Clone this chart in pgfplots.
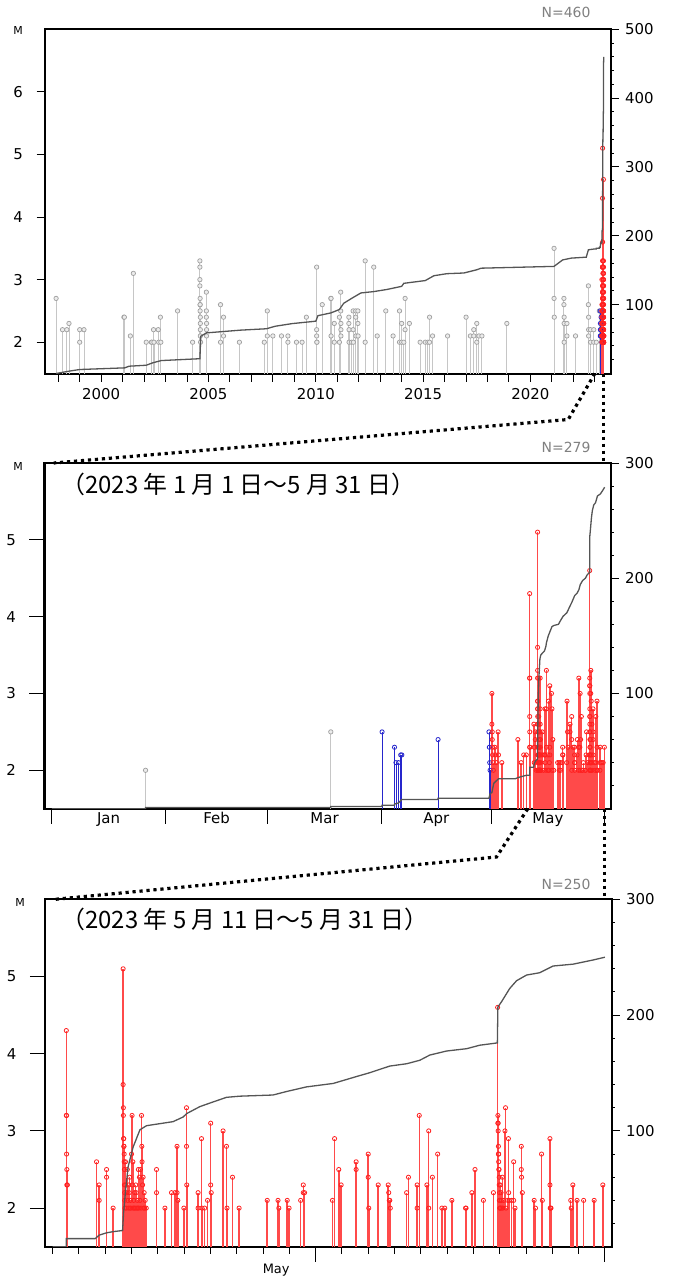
\documentclass[border=0pt]{standalone}
\usepackage{fontspec}
\setmainfont{DejaVu Sans}
\newfontfamily\jp{Noto Sans CJK JP}
\usepackage{pgfplots}
\usepackage{pgfplotstable}
\pgfplotsset{compat=1.18}

% ---------- events (M) ----------
\pgfplotstableread{
y m
1997.90 2.7
1998.20 2.2
1998.40 2.2
1998.50 2.3
1999.00 2.2
1999.00 2.0
1999.20 2.2
2001.06 2.4
2001.08 2.4
2001.36 2.1
2001.50 3.1
2002.10 2.0
2002.34 2.0
2002.36 2.0
2002.44 2.2
2002.46 2.0
2002.66 2.2
2002.68 2.0
2002.76 2.4
2002.78 2.0
2003.56 2.5
2004.26 2.0
2004.60 3.3
2004.60 3.2
2004.60 3.0
2004.60 2.9
2004.61 2.7
2004.61 2.6
2004.61 2.6
2004.61 2.5
2004.62 2.4
2004.62 2.3
2004.62 2.2
2004.62 2.1
2004.63 2.0
2004.90 2.8
2004.90 2.5
2004.90 2.4
2004.91 2.3
2004.91 2.2
2004.91 2.1
2005.56 2.6
2005.56 2.0
2005.70 2.4
2005.70 2.1
2006.44 2.0
2007.60 2.0
2007.74 2.5
2007.74 2.1
2008.00 2.1
2008.40 2.1
2008.70 2.1
2008.70 2.0
2009.10 2.0
2009.36 2.0
2009.56 2.4
2010.04 3.2
2010.04 2.2
2010.04 2.1
2010.05 2.0
2010.05 2.0
2010.30 2.6
2010.70 2.7
2010.71 2.7
2010.71 2.1
2010.86 2.3
2010.86 2.0
2011.10 2.4
2011.10 2.0
2011.16 2.8
2011.16 2.5
2011.17 2.3
2011.17 2.2
2011.17 2.1
2011.54 2.4
2011.54 2.3
2011.55 2.2
2011.55 2.0
2011.66 2.0
2011.74 2.5
2011.74 2.2
2011.75 2.0
2011.86 2.5
2011.86 2.4
2011.87 2.1
2011.96 2.5
2011.96 2.3
2011.97 2.1
2012.30 3.3
2012.30 2.0
2012.70 3.2
2012.86 2.1
2013.26 2.5
2013.60 2.1
2013.90 2.5
2013.90 2.0
2014.00 2.3
2014.00 2.0
2014.10 2.0
2014.16 2.7
2014.16 2.2
2014.36 2.3
2014.86 2.0
2015.10 2.0
2015.22 2.0
2015.30 2.4
2015.30 2.0
2015.44 2.1
2016.14 2.1
2017.00 2.4
2017.20 2.1
2017.36 2.2
2017.36 2.1
2017.50 2.3
2017.50 2.0
2017.60 2.1
2017.74 2.1
2018.90 2.3
2021.10 3.5
2021.10 2.7
2021.11 2.4
2021.56 2.7
2021.56 2.6
2021.57 2.4
2021.57 2.3
2021.57 2.0
2021.70 2.3
2021.70 2.1
2022.10 2.1
2022.70 2.9
2022.70 2.6
2022.71 2.4
2022.71 2.2
2022.71 2.1
2022.80 2.2
2022.80 2.0
2022.95 2.2
2022.95 2.0
}\ponegray

\pgfplotstableread{
d m
25.6 2.0
76.2 2.5
}\ptwogray

\pgfplotstableread{
d m
90.2 2.5
93.6 2.3
94.0 2.1
94.7 2.1
95.3 2.2
95.6 2.2
105.5 2.4
119.4 2.5
119.5 2.3
119.6 2.1
119.7 2.0
}\ptwoblue

\pgfplotstableread{
d m
120.2 3.0
120.2 2.6
120.3 2.5
120.3 2.4
120.4 2.3
120.4 2.2
120.5 2.1
120.6 2.0
121.0 2.3
121.2 2.2
121.4 2.1
121.9 2.5
122.0 2.2
122.9 2.1
127.3 2.4
128.2 2.1
128.9 2.2
129.6 2.2
}\ptwored

% May events: d = day of May (11.0 = 11 May 00:00)
\pgfplotstableread{
d m
11.52 4.3
11.52 3.2
11.53 3.2
11.53 2.7
11.54 2.5
11.54 2.3
11.56 2.3
12.67 2.6
12.77 2.3
12.77 2.1
13.05 2.5
13.05 2.4
13.30 2.0
13.68 5.1
13.68 3.6
13.69 3.3
13.69 3.2
13.70 2.9
13.70 2.9
13.71 2.8
13.71 2.8
13.72 2.7
13.72 2.6
13.73 2.5
13.73 2.3
13.74 2.2
13.74 2.1
13.75 2.0
13.77 2.6
13.78 2.3
13.80 2.0
13.82 2.2
13.84 2.5
13.86 2.1
13.88 2.0
13.90 2.3
13.91 2.2
13.93 2.4
13.94 2.0
13.96 2.1
13.98 2.0
14.00 2.7
14.02 3.2
14.03 2.3
14.05 2.6
14.06 2.0
14.08 2.1
14.10 2.0
14.12 2.2
14.14 2.0
14.16 2.3
14.18 2.2
14.20 2.0
14.22 2.1
14.24 2.0
14.26 2.5
14.28 2.0
14.30 2.4
14.32 2.1
14.34 2.5
14.36 2.0
14.38 3.2
14.39 2.8
14.40 2.6
14.42 2.3
14.44 2.4
14.46 2.0
14.48 2.2
14.50 2.0
14.52 2.1
14.56 2.0
14.95 2.5
14.95 2.2
15.27 2.0
15.52 2.2
15.65 2.2
15.73 2.8
15.73 2.2
15.76 2.1
15.99 2.0
16.09 3.3
16.09 2.8
16.10 2.3
16.53 2.2
16.53 2.0
16.66 2.9
16.68 2.0
16.78 2.0
16.89 2.1
17.01 3.1
17.01 2.3
17.03 2.2
17.48 3.0
17.61 2.8
17.63 2.0
17.84 2.4
18.09 2.0
19.16 2.1
19.57 2.1
19.60 2.0
19.92 2.1
19.99 2.0
20.43 2.1
20.53 2.3
20.53 2.2
20.58 2.2
21.64 2.1
21.72 2.9
21.88 2.5
21.97 2.3
22.54 2.6
22.54 2.5
23.00 2.7
23.00 2.4
23.02 2.0
23.38 2.3
23.76 2.3
23.78 2.2
23.80 2.1
23.82 2.1
23.84 2.0
24.46 2.2
24.53 2.4
24.86 2.3
24.86 2.0
24.94 3.2
25.23 2.3
25.30 3.0
25.30 2.0
25.44 2.4
25.64 2.7
25.80 2.0
25.91 2.0
26.18 2.1
26.70 2.0
26.72 2.0
26.94 2.2
27.06 2.5
27.38 2.1
27.76 2.2
27.92 4.6
27.93 3.2
27.93 3.1
27.94 3.1
27.94 3.0
27.95 2.8
27.95 2.7
27.96 2.7
27.96 2.6
27.97 2.5
27.97 2.5
27.98 2.4
27.98 2.3
27.99 2.2
27.99 2.1
28.00 2.1
28.00 2.0
28.01 2.0
28.02 2.3
28.03 2.0
28.05 2.2
28.06 2.1
28.08 2.0
28.10 2.4
28.12 2.0
28.15 2.1
28.20 3.0
28.22 3.3
28.24 2.0
28.30 2.1
28.33 2.9
28.34 2.2
28.36 2.1
28.45 2.1
28.53 2.6
28.53 2.1
28.58 2.0
28.82 2.8
28.82 2.5
28.83 2.4
28.86 2.2
29.31 2.1
29.36 2.0
29.59 2.7
29.62 2.1
29.91 2.9
29.91 2.3
29.92 2.0
29.93 2.0
29.95 2.0
30.70 2.1
30.72 2.0
30.78 2.3
30.94 2.1
31.19 2.1
31.59 2.1
31.92 2.3
}\pthree

% ---------- cumulative counts ----------
\pgfplotstableread{
y n
1997.90 0
1998.50 3.4
1999.00 5.8
2001.10 8.2
2001.30 10.6
2002.10 12
2002.40 15.5
2002.80 18.8
2003.60 20
2004.60 21.5
2004.64 54
2004.90 59
2005.70 61
2006.50 63
2007.70 65
2008.10 68.6
2008.90 72.5
2010.00 76
2010.10 84
2010.70 88
2011.10 93
2011.30 102
2011.70 109.7
2012.10 117
2012.70 119
2013.30 122
2014.00 126.6
2014.10 131
2015.10 135
2015.50 142
2016.10 145
2016.90 146
2017.50 150.7
2017.70 153
2021.10 155.6
2021.50 165
2021.90 167.6
2022.60 169
2022.70 179.7
2023.00 181
}\cone

\pgfplotstableread{
d n
0 0
25.6 0
25.6 1
76.2 1
76.2 2
90.2 2
90.2 3
93.6 3
93.6 4
94.7 5
95.6 8
105.5 8
105.5 9
119.4 9
119.7 13
120.2 14
120.7 22
122.0 26
126.6 26
127.3 27
129.6 29
130.0 29
}\ctwo

\pgfplotstableread{
d n
11.00 0
11.52 0
11.52 7
12.62 7
12.67 8
12.77 10
13.05 12
13.30 13
13.66 14
13.70 30
13.78 50
13.87 69
14.06 86
14.32 101
14.57 104.5
15.00 106
15.58 108
15.96 112
16.10 115
16.60 121
17.10 125
17.61 129
18.12 130
19.38 131
19.89 134
20.65 138
21.67 141
22.56 147
23.02 150
23.82 156
24.46 158
24.96 161
25.34 165.5
25.98 169
26.74 171
27.24 174
27.91 176
27.93 207
28.07 211.6
28.38 223
28.64 229.7
29.02 234.6
29.52 236.6
30.03 242.4
30.79 244
31.55 247.6
32.00 250
}\cthree

\definecolor{cumline}{HTML}{555555}
\definecolor{stemred}{HTML}{FF2020}
\definecolor{stemline}{HTML}{FF4A4A}
\definecolor{stemblue}{HTML}{2626CC}

\pgfplotsset{
  mbase/.style={
    scale only axis, anchor=north west,
    ymin=1.5,
    tick pos=left, tick align=outside,
    axis line style={line width=2bp},
    tick style={black, line width=1bp},
    major tick length=8bp, minor tick length=8bp,
    tick label style={font=\fontsize{15}{17}\selectfont},
    /pgf/number format/assume math mode=true,
    yticklabel style={xshift=-10bp},
    xticklabel style={/pgf/number format/1000 sep=},
  },
  nbase/.style={
    scale only axis, anchor=north west,
    ymin=0, axis y line*=right, axis x line=none,
    tick align=outside,
    axis line style={line width=2bp},
    tick style={black, line width=1bp},
    major tick length=8bp, minor tick length=3bp,
    tick label style={font=\fontsize{15}{17}\selectfont},
    /pgf/number format/assume math mode=true,
    yticklabel style={xshift=3bp},
  },
  graystem/.style={ycomb, draw=gray!45, line width=0.9bp, mark=*, mark size=2.2bp,
    mark options={fill=gray!15, draw=gray!75, line width=0.7bp}},
  bluestem/.style={ycomb, draw=stemblue, line width=0.8bp, mark=o, mark size=2.1bp,
    mark options={draw=stemblue, line width=0.8bp}},
  redstem/.style={ycomb, color=stemline, line width=1.5bp, mark=o, mark size=2.1bp,
    mark options={draw=stemred, line width=0.8bp}},
  cum/.style={draw=cumline, line width=1.3bp, no marks},
}

\begin{document}
\begin{tikzpicture}
\useasboundingbox (0,0) rectangle (674bp,-1276bp);

% ================= Panel 1 =================
\begin{axis}[mbase, name=p1, at={(44.5bp,-29.3bp)}, width=566bp, height=344.2bp,
  xmin=1997.36, xmax=2023.73, ymax=7.0, ytick={2,...,6},
  xtick={2000,2005,...,2020}, minor xtick={1998,...,2023},
  xticklabel style={yshift=-3bp}]
\addplot[graystem] table[x=y, y=m]{\ponegray};
\addplot[graystem] table[x expr=2023+\thisrow{d}/365, y=m]{\ptwogray};
\addplot[bluestem] table[x expr=2023+\thisrow{d}/365, y=m]{\ptwoblue};
\addplot[redstem] table[x expr=2023+\thisrow{d}/365, y=m]{\ptwored};
\addplot[redstem] table[x expr=2023+(\thisrow{d}+119)/365, y=m]{\pthree};
\coordinate (d1a) at (axis cs:2023.0,1.5);
\coordinate (d1b) at (axis cs:2023.42,1.5);
\end{axis}
\begin{axis}[nbase, at={(44.5bp,-29.3bp)}, width=566bp, height=344.2bp,
  xmin=1997.36, xmax=2023.73, ymax=500,
  ytick={100,200,...,500}, minor ytick={20,40,...,480}]
\addplot[cum] table[x=y, y=n]{\cone};
\addplot[cum] table[x expr=2023+\thisrow{d}/365, y expr=181+\thisrow{n}]{\ctwo};
\addplot[cum] table[x expr=2023+(\thisrow{d}+119)/365, y expr=210+\thisrow{n}]{\cthree};
\end{axis}
\node[font=\fontsize{11}{13}\selectfont] at (18bp,-31bp) {M};
\node[anchor=east, text=gray, font=\fontsize{14}{16}\selectfont] at (594bp,-12.5bp) {N=460};

% ================= Panel 2 =================
\begin{axis}[mbase, name=p2, at={(44.5bp,-463bp)}, width=566bp, height=345.7bp,
  xmin=-2, xmax=152.6, ymax=6.0, ytick={2,...,5},
  xtick={0,31,59,90,120,151}, xticklabels={},
  major tick length=15bp,
  extra x ticks={15.5,45,74.5,105,135.5},
  extra x tick labels={Jan,Feb,Mar,Apr,May},
  extra x tick style={major tick length=0pt}]
\addplot[graystem] table[x=d, y=m]{\ptwogray};
\addplot[bluestem] table[x=d, y=m]{\ptwoblue};
\addplot[redstem] table[x=d, y=m]{\ptwored};
\addplot[redstem] table[x expr=\thisrow{d}+119, y=m]{\pthree};
\coordinate (d2top) at (axis cs:0.5,6);
\coordinate (d2a) at (axis cs:130,1.5);
\coordinate (d2b) at (axis cs:151,1.5);
\end{axis}
\begin{axis}[nbase, at={(44.5bp,-463bp)}, width=566bp, height=345.7bp,
  xmin=-2, xmax=152.6, ymax=300,
  ytick={100,200,300}, minor ytick={20,40,...,280}]
\addplot[cum] table[x=d, y=n]{\ctwo};
\addplot[cum] table[x expr=\thisrow{d}+119, y expr=29+\thisrow{n}]{\cthree};
\end{axis}
\node[font=\fontsize{11}{13}\selectfont] at (18bp,-466bp) {M};
\node[anchor=east, text=gray, font=\fontsize{14}{16}\selectfont] at (594bp,-447bp) {N=279};
\node[anchor=west, font=\jp\fontsize{24}{27}\selectfont] at (58bp,-484bp) {（2023 年 1 月 1 日～5 月 31 日）};

% ================= Panel 3 =================
\begin{axis}[mbase, name=p3, at={(45bp,-899.3bp)}, width=566.5bp, height=347.4bp,
  xmin=10.71, xmax=32.25, ymax=6.0, ytick={2,...,5},
  xtick={21,32}, xticklabels={}, minor xtick={11,...,31},
  major tick length=15bp, minor tick length=7bp]
\addplot[redstem] table[x=d, y=m]{\pthree};
\coordinate (d3top) at (axis cs:11.1,6);
\coordinate (may) at (axis cs:19.5,1.5);
\end{axis}
\begin{axis}[nbase, at={(45bp,-899.3bp)}, width=566.5bp, height=347.4bp,
  xmin=10.71, xmax=32.25, ymax=300,
  ytick={100,200,300}, minor ytick={20,40,...,280}]
\addplot[cum] table[x=d, y=n]{\cthree};
\end{axis}
\node[font=\fontsize{11}{13}\selectfont] at (20bp,-902bp) {M};
\node[anchor=east, text=gray, font=\fontsize{14}{16}\selectfont] at (594bp,-884bp) {N=250};
\node[anchor=west, font=\jp\fontsize{24}{27}\selectfont] at (58bp,-919bp) {（2023 年 5 月 11 日～5 月 31 日）};
\node[font=\fontsize{13}{15}\selectfont] at ([yshift=-23bp]may) {May};

% ================= connecting dotted lines =================
\begin{scope}[line width=3.2bp, dash pattern=on 3.2bp off 3.8bp, black]
\draw (d1a) -- ++(-26.6bp,-46bp) -- (d2top);
\draw (d1b) -- (d1b |- d2top);
\draw (d2a) -- ++(-31.3bp,-48.3bp) -- (d3top);
\draw (d2b) -- (d2b |- d3top);
\end{scope}
\end{tikzpicture}
\end{document}
